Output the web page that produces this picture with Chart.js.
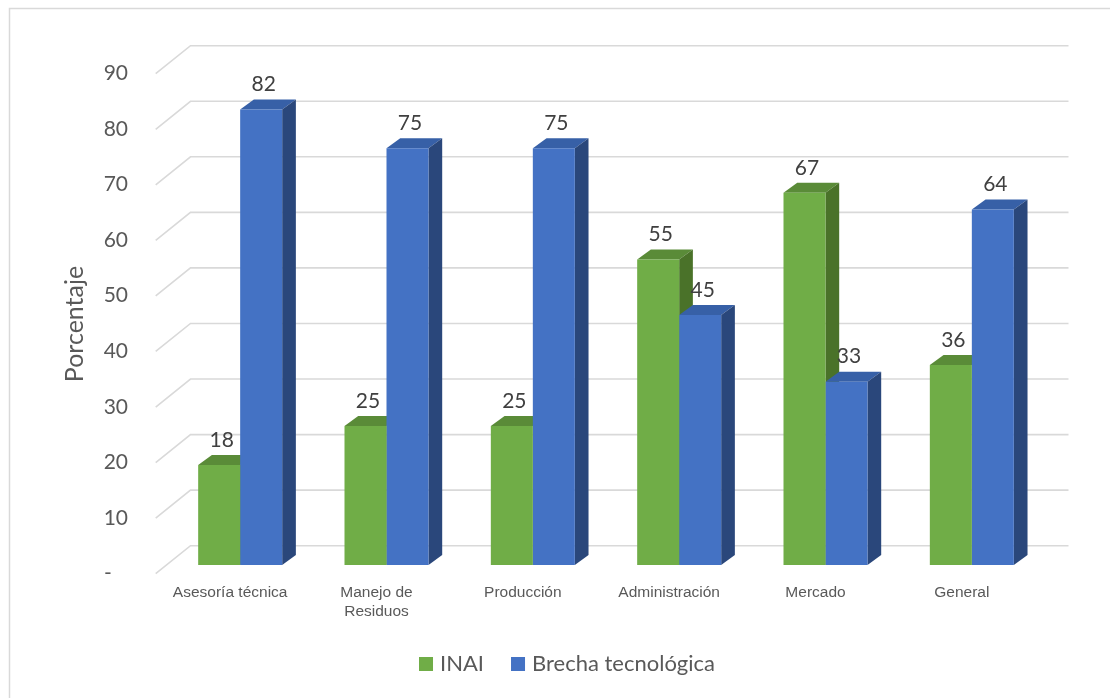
<!DOCTYPE html>
<html>
<head>
<meta charset="utf-8">
<script src="https://cdn.jsdelivr.net/npm/chart.js@4.4.1/dist/chart.umd.min.js"></script>
<style>
  html, body { margin: 0; padding: 0; background: #fff; }
  #wrap { width: 1110px; height: 698px; position: relative; }
</style>
</head>
<body>
<div id="wrap"><canvas id="chart"></canvas></div>
<script>
const categories = ['Asesoría técnica', ['Manejo de', 'Residuos'], 'Producción', 'Administración', 'Mercado', 'General'];
const inai = [18, 25, 25, 55, 67, 36];
const brecha = [82, 75, 75, 45, 33, 64];
const seriesNames = ['INAI', 'Brecha tecnológica'];
const yTicks = [0, 10, 20, 30, 40, 50, 60, 70, 80, 90];

const frontColors = ['#70AD47', '#4472C4'];
const topColors = ['#5A8B38', '#3760A7'];
const sideColors = ['#4A7229', '#2A477B'];

// fake 3d: offsets of the bar depth, the back wall and the front edge
const BAR = { x: 13.7, y: -10 };
const WALL = { x: 23.5, y: -19.3 };
const FRONT = { x: -11.3, y: 8.7 };

const GREY = '#595959';
const LATO = 'Lato, "Open Sans", sans-serif';

function poly(ctx, pts, color) {
  ctx.beginPath();
  ctx.moveTo(pts[0][0], pts[0][1]);
  for (let i = 1; i < pts.length; i++) ctx.lineTo(pts[i][0], pts[i][1]);
  ctx.closePath();
  ctx.fillStyle = color;
  ctx.fill();
}

const depth3d = {
  id: 'depth3d',
  beforeDraw(chart) {
    const ctx = chart.ctx;
    ctx.save();
    ctx.strokeStyle = '#d9d9d9';
    ctx.lineWidth = 1.5;
    ctx.strokeRect(9.5, 8.5, 1200, 800);
    ctx.restore();
  },
  beforeDatasetsDraw(chart) {
    const { ctx, chartArea: a, scales: { y } } = chart;
    ctx.save();
    ctx.strokeStyle = '#d9d9d9';
    ctx.lineWidth = 1.6;
    yTicks.forEach(v => {
      const py = y.getPixelForValue(v);
      ctx.beginPath();
      ctx.moveTo(a.left + FRONT.x, py + FRONT.y);
      ctx.lineTo(a.left + WALL.x, py + WALL.y);
      ctx.lineTo(a.right + WALL.x, py + WALL.y);
      ctx.stroke();
    });
    // top and side faces go under the front faces drawn by chart.js
    chart.data.datasets.forEach((ds, i) => {
      chart.getDatasetMeta(i).data.forEach(bar => {
        const { x, y: top, base, width } = bar.getProps(['x', 'y', 'base', 'width'], true);
        const l = x - width / 2, r = x + width / 2;
        poly(ctx, [[l, top], [l + BAR.x, top + BAR.y], [r + BAR.x, top + BAR.y], [r, top]], topColors[i]);
        poly(ctx, [[r, top], [r + BAR.x, top + BAR.y], [r + BAR.x, base + BAR.y], [r, base]], sideColors[i]);
      });
    });
    ctx.restore();
  },
  afterDatasetsDraw(chart) {
    const ctx = chart.ctx;
    ctx.save();
    ctx.font = '21px ' + LATO;
    ctx.fillStyle = '#404040';
    ctx.textAlign = 'center';
    ctx.textBaseline = 'middle';
    chart.data.datasets.forEach((ds, i) => {
      chart.getDatasetMeta(i).data.forEach((bar, j) => {
        ctx.fillText(String(ds.data[j]), bar.x + 2.5, bar.y - 25);
      });
    });
    ctx.restore();
  },
  afterDraw(chart) {
    const ctx = chart.ctx;
    ctx.save();
    // axis title
    ctx.font = '25px ' + LATO;
    ctx.fillStyle = GREY;
    ctx.textAlign = 'center';
    ctx.textBaseline = 'middle';
    ctx.translate(75, 324);
    ctx.rotate(-Math.PI / 2);
    ctx.fillText('Porcentaje', 0, 0);
    ctx.restore();

    // legend
    ctx.save();
    ctx.font = '22px ' + LATO;
    ctx.textBaseline = 'middle';
    const box = 14, gap = 7, spacing = 27, cy = 664;
    const widths = seriesNames.map(n => box + gap + ctx.measureText(n).width);
    const total = widths.reduce((s, w) => s + w, 0) + spacing * (widths.length - 1);
    let x = 567 - total / 2;
    seriesNames.forEach((n, i) => {
      ctx.fillStyle = frontColors[i];
      ctx.fillRect(x, cy - box / 2, box, box);
      ctx.fillStyle = GREY;
      ctx.fillText(n, x + box + gap, cy);
      x += widths[i] + spacing;
    });
    ctx.restore();
  }
};

new Chart(document.getElementById('chart'), {
  type: 'bar',
  data: {
    labels: categories,
    datasets: [
      { label: seriesNames[0], data: inai, backgroundColor: frontColors[0] },
      { label: seriesNames[1], data: brecha, backgroundColor: frontColors[1] }
    ]
  },
  options: {
    responsive: true,
    maintainAspectRatio: false,
    animation: false,
    barPercentage: 1,
    categoryPercentage: 0.574,
    layout: { padding: { top: 65, right: 65, left: 0, bottom: 0 } },
    plugins: {
      legend: { display: false },
      tooltip: { enabled: false }
    },
    scales: {
      x: {
        grid: { display: false, drawTicks: false },
        border: { display: false },
        ticks: {
          autoSkip: false,
          maxRotation: 0,
          labelOffset: -10,
          padding: 18,
          color: GREY,
          font: { family: '"Liberation Sans", Arial, sans-serif', size: 15.5, lineHeight: 1.25 }
        },
        afterFit(scale) { scale.height = 133; }
      },
      y: {
        min: 0,
        max: 90,
        grid: { display: false, drawTicks: false },
        border: { display: false },
        ticks: {
          stepSize: 10,
          labelOffset: 8.5,
          padding: 39,
          color: GREY,
          font: { family: LATO, size: 21 },
          callback: v => (v === 0 ? '-   ' : v)
        },
        afterFit(scale) { scale.width = 167; }
      }
    }
  },
  plugins: [depth3d]
});
</script>
</body>
</html>
